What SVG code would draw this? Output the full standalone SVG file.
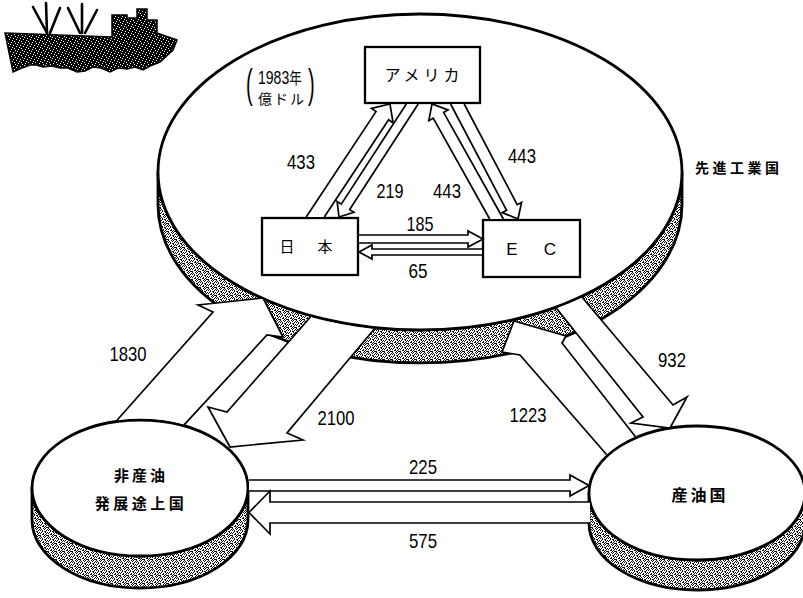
<svg xmlns="http://www.w3.org/2000/svg" width="803" height="598" viewBox="0 0 803 598">
  <defs>
    <!-- printed dot screen used on the cylinder sides -->
    <pattern id="stipple" width="8" height="8" patternUnits="userSpaceOnUse">
      <rect width="8" height="8" fill="#fff"/>
      <path fill="#000" d="M0 0h1v1H0zM3 0h1v1H3zM5 0h1v1H5zM1 1h1v1H1zM4 1h1v1H4zM7 1h1v1H7zM0 2h1v1H0zM2 2h1v1H2zM6 2h1v1H6zM2 3h1v1H2zM4 3h1v1H4zM5 3h1v1H5zM1 4h1v1H1zM5 4h1v1H5zM7 4h1v1H7zM0 5h1v1H0zM3 5h1v1H3zM6 5h1v1H6zM2 6h1v1H2zM3 6h1v1H3zM5 6h1v1H5zM0 7h1v1H0zM4 7h1v1H4zM6 7h1v1H6zM7 7h1v1H7z"/>
    </pattern>
    <!-- dark ink with light specks for the ship -->
    <pattern id="ink" width="7" height="7" patternUnits="userSpaceOnUse">
      <rect width="7" height="7" fill="#000"/>
      <path fill="#fff" d="M1 1h1v1H1zM4 0h1v1H4zM6 3h1v1H6zM2 4h1v1H2zM5 5h1v1H5zM0 6h1v1H0zM3 2h1v1H3z"/>
    </pattern>
    <style>
      .face{fill:#fff;stroke:#000;stroke-width:2.8}
      .side{fill:url(#stipple);stroke:#000;stroke-width:2.8;stroke-linejoin:round}
      .box{fill:#fff;stroke:#000;stroke-width:2.3}
      .arr{fill:#fff;stroke:#000;stroke-width:1.7;stroke-linejoin:miter}
      .fill{fill:#fff;stroke:none}
      .edge{fill:none;stroke:#000;stroke-width:1.7;stroke-linejoin:miter}
      .num{font-family:"Liberation Sans",sans-serif;font-size:21px;text-anchor:middle;fill:#000}
      .jp{font-family:"Noto Sans CJK JP",sans-serif;fill:#000}
      .mast{stroke:#000;stroke-width:2.6;stroke-linecap:round}
    </style>
  </defs>

  <rect width="803" height="598" fill="#fff"/>

  <!-- freighter emblem -->
  <g id="ship">
    <line class="mast" x1="33" y1="7" x2="47" y2="33"/>
    <line class="mast" x1="46" y1="3" x2="47" y2="33"/>
    <line class="mast" x1="60" y1="8" x2="50" y2="33"/>
    <line class="mast" x1="68" y1="8" x2="80" y2="33"/>
    <line class="mast" x1="82" y1="4" x2="82" y2="33"/>
    <line class="mast" x1="97" y1="10" x2="85" y2="33"/>
    <path fill="url(#ink)" stroke="#000" stroke-width="1.5" d="M5,33 L112,37 L112,15 L127,15 L127,18 L137,18 L137,9 L147,9 L147,20 L157,20 L157,33 L177,40 L173,50 L160,62 L150,66 L143,70 L135,67 L127,69 L118,68 L110,72 L101,68 L93,67 L85,71 L77,72 L68,68 L60,68 L52,66 L43,67 L36,65 L30,65 L22,68 L13,72 Z"/>
  </g>

  <!-- industrial countries: large flat cylinder -->
  <g id="advanced">
    <path class="side" d="M158,172 A262,158 0 0 0 682,172 L682,205 A262,158 0 0 1 158,205 Z"/>
    <ellipse class="face" cx="420" cy="172" rx="262" ry="158"/>
    <text class="jp" x="695" y="172.5" font-size="14" font-weight="700" letter-spacing="3.5">先進工業国</text>
  </g>

  <!-- unit note: year and unit, bracketed -->
  <g id="unit-note">
    <text font-family="Liberation Sans" font-size="40" transform="translate(246,98) scale(0.5,1)">(</text>
    <text font-family="'Liberation Sans','Noto Sans CJK JP',sans-serif" font-size="18" transform="translate(258,84) scale(0.78,1)">1983<tspan font-family="'Noto Sans CJK JP',sans-serif" font-size="16">年</tspan></text>
    <text class="jp" x="258" y="104" font-size="14" letter-spacing="2">億ドル</text>
    <text font-family="Liberation Sans" font-size="40" transform="translate(308,98) scale(0.5,1)">)</text>
  </g>

  <g id="usa">
    <rect class="box" x="365" y="47" width="115" height="56"/>
    <text class="jp" x="424" y="81" font-size="16" letter-spacing="4" text-anchor="middle">アメリカ</text>
  </g>

  <g id="japan">
    <rect class="box" x="262" y="218" width="96" height="57"/>
    <text class="jp" font-size="15" text-anchor="middle" y="252"><tspan x="287">日</tspan><tspan x="325">本</tspan></text>
  </g>

  <g id="ec">
    <rect class="box" x="483" y="220" width="97" height="57"/>
    <text font-family="Liberation Sans" font-size="17" text-anchor="middle" y="255"><tspan x="512">E</tspan><tspan x="550">C</tspan></text>
  </g>

  <!-- non-oil developing countries -->
  <g id="developing">
    <path class="side" d="M32,488 A108,68 0 0 0 248,488 L248,520 A108,68 0 0 1 32,520 Z"/>
    <ellipse class="face" cx="140" cy="488" rx="108" ry="68"/>
    <text class="jp" x="141" y="481" font-size="15" font-weight="700" letter-spacing="3" text-anchor="middle">非産油</text>
    <text class="jp" x="141" y="509" font-size="15" font-weight="700" letter-spacing="3.5" text-anchor="middle">発展途上国</text>
  </g>

  <!-- oil producing countries -->
  <g id="oil">
    <path class="side" d="M589,493 A108,67 0 0 0 805,493 L805,523 A108,67 0 0 1 589,523 Z"/>
    <ellipse class="face" cx="697" cy="493" rx="108" ry="67"/>
    <text class="jp" x="700" y="500.5" font-size="16" font-weight="700" letter-spacing="3" text-anchor="middle">産油国</text>
  </g>

  <!-- trade flows -->
  <g id="connectors">
    <!-- Japan -> USA -->
    <path class="arr" d="M306.2,217 L376,111.6 L371.5,108.5 L390,104 L393.1,122.9 L388.6,119.8 L324.3,217"/>
    <!-- USA -> Japan -->
    <path class="arr" d="M418.2,104 L349.7,209.6 L353.9,212.3 L339,217 L337.1,201.5 L341.3,204.2 L406.3,104"/>
    <!-- EC -> USA -->
    <path class="arr" d="M489.7,219 L433.2,118.2 L428.8,120.7 L432,104 L448,109.9 L443.6,112.4 L503.4,219"/>
    <!-- USA -> EC -->
    <path class="arr" d="M450.6,104 L506.6,210.3 L502.2,212.6 L518,219 L521.6,202.4 L517.2,204.7 L464.2,104"/>
    <!-- Japan -> EC -->
    <path class="arr" d="M359,235 H468 V231 L483,239 L468,247 V243 H359"/>
    <!-- EC -> Japan -->
    <path class="arr" stroke-width="2.2" d="M482,249 H372 V245 L359,252 L372,259 V255 H482"/>

    <!-- developing -> industrial -->
    <g id="flow-1830">
      <path class="fill" d="M117,420.2 L213,312 L198,305 L263,298 L283,337 L267,335 L184.3,424.6 A109.3,69.3 0 0 0 117,420.2 Z"/>
      <path class="edge" d="M117,420.2 L213,312 L198,305 L263,298 L283,337 L267,335 L184.3,424.6"/>
    </g>
    <!-- industrial -> developing -->
    <g id="flow-2100">
      <path class="fill" d="M310.5,317 L227,412 L208,407 L230,447 L303,440 L287,433 L374.3,329 A263.3,159.3 0 0 1 310.5,317 Z"/>
      <path class="edge" d="M310.5,317 L227,412 L208,407 L230,447 L303,440 L287,433 L374.3,329"/>
    </g>
    <!-- oil -> industrial -->
    <g id="flow-1223">
      <path class="fill" d="M606.5,454.5 L520,355 L502,352 L514,321 L566,336 L562,343 L635.3,436.6 A109.3,68.3 0 0 0 606.5,454.5 Z"/>
      <path class="edge" d="M606.5,454.5 L520,355 L502,352 L514,321 L566,336 L562,343 L635.3,436.6"/>
    </g>
    <!-- industrial -> oil -->
    <g id="flow-932">
      <path class="fill" d="M556.5,308.3 L643,417 L631,423 L670,428 L687,397 L673,405 L582.3,297.5 A263.3,159.3 0 0 1 556.5,308.3 Z"/>
      <path class="edge" d="M556.5,308.3 L643,417 L631,423 L670,428 L687,397 L673,405 L582.3,297.5"/>
    </g>
    <!-- developing -> oil -->
    <path class="arr" d="M249,480 H570 V475 L589,485.5 L570,496 V491 H249"/>
    <!-- oil -> developing -->
    <path class="arr" d="M590,502 H270 V491 L249,512.5 L270,534 V523 H590"/>
  </g>

  <g id="flow-values">
    <text class="num" x="301" y="168.5" textLength="28" lengthAdjust="spacingAndGlyphs">433</text>
    <text class="num" x="390" y="197.5" textLength="27" lengthAdjust="spacingAndGlyphs">219</text>
    <text class="num" x="447" y="198" textLength="28" lengthAdjust="spacingAndGlyphs">443</text>
    <text class="num" x="522" y="162.5" textLength="28" lengthAdjust="spacingAndGlyphs">443</text>
    <text class="num" x="420" y="231" textLength="27" lengthAdjust="spacingAndGlyphs">185</text>
    <text class="num" x="418" y="277.5" textLength="19" lengthAdjust="spacingAndGlyphs">65</text>
    <text class="num" x="128" y="361" textLength="37" lengthAdjust="spacingAndGlyphs">1830</text>
    <text class="num" x="336" y="424.5" textLength="37" lengthAdjust="spacingAndGlyphs">2100</text>
    <text class="num" x="528" y="422" textLength="37" lengthAdjust="spacingAndGlyphs">1223</text>
    <text class="num" x="672" y="367" textLength="28" lengthAdjust="spacingAndGlyphs">932</text>
    <text class="num" x="423" y="474" textLength="28" lengthAdjust="spacingAndGlyphs">225</text>
    <text class="num" x="423" y="548" textLength="28" lengthAdjust="spacingAndGlyphs">575</text>
  </g>
</svg>
